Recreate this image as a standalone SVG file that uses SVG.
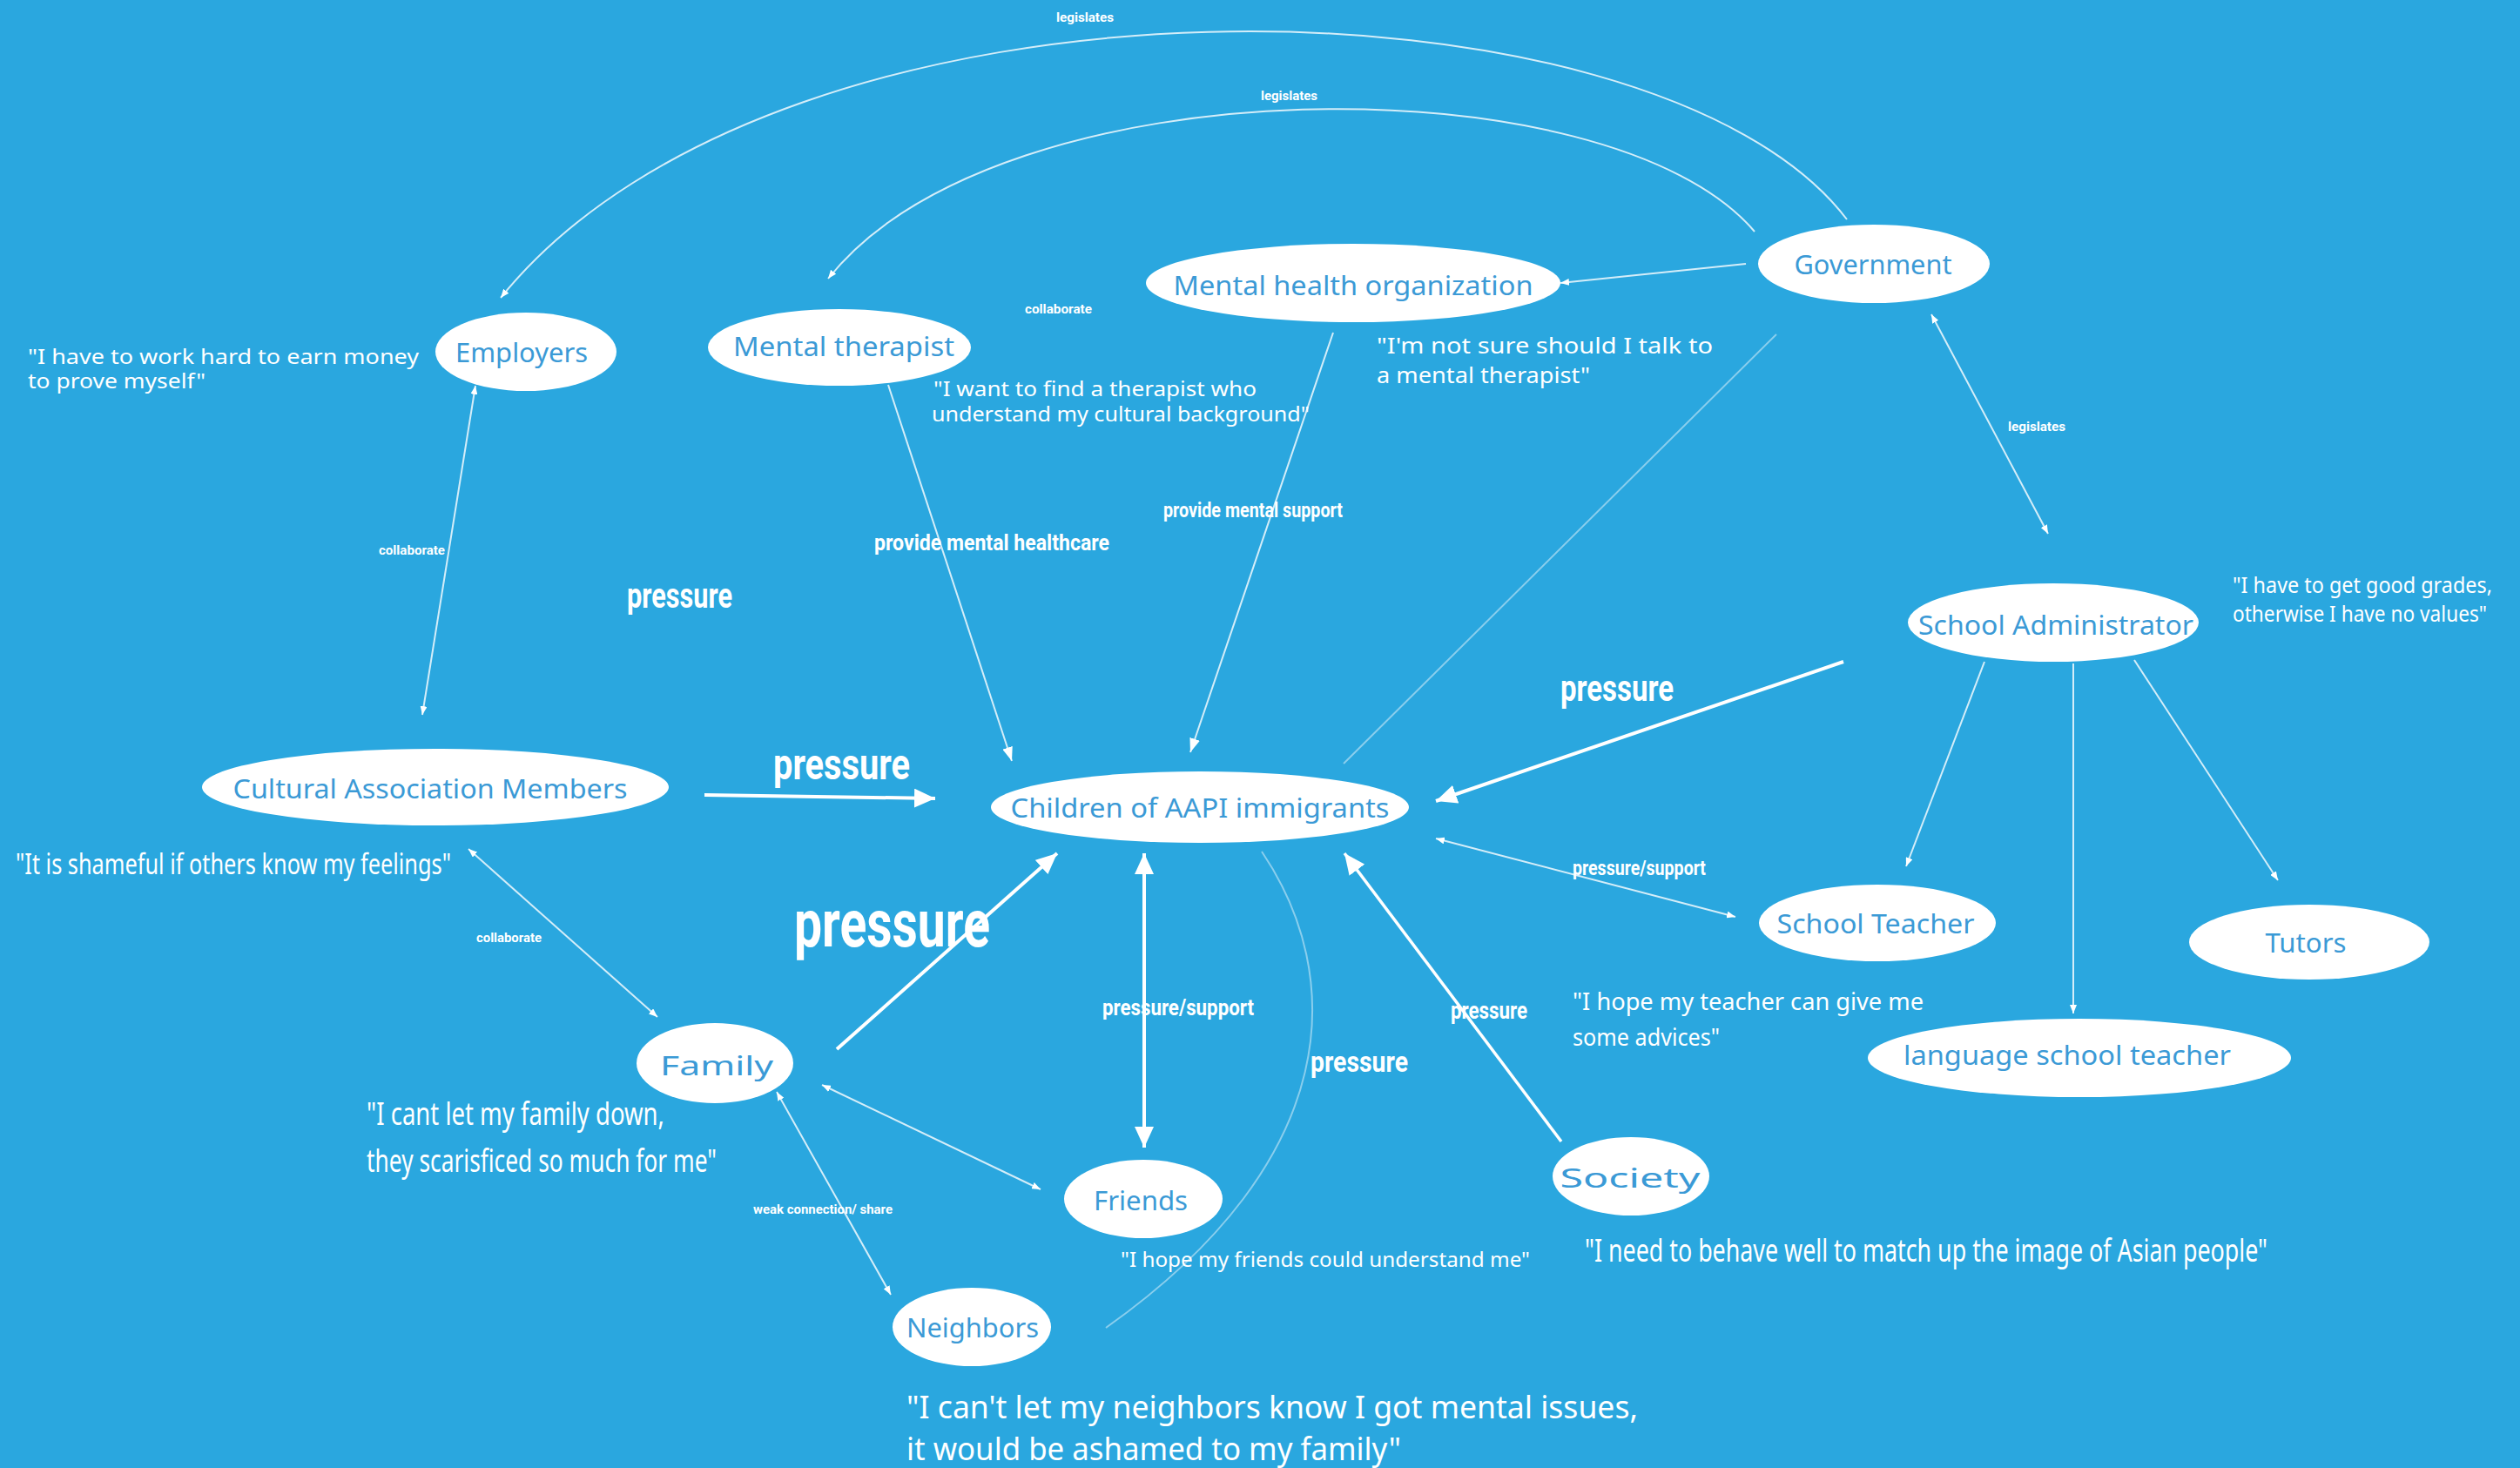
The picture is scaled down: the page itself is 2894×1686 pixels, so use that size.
<svg xmlns="http://www.w3.org/2000/svg" width="2894" height="1686" viewBox="0 0 2894 1686">
<defs>
<style>
.node{fill:#ffffff;}
.nt{fill:#3b9ad6;font-family:"Noto Sans","Open Sans",sans-serif;font-size:30px;text-anchor:middle;dominant-baseline:central;}
.q{fill:#ffffff;font-family:"Noto Sans","Open Sans",sans-serif;}
.lb{fill:#ffffff;font-family:"Liberation Sans Narrow","Roboto","Liberation Sans",sans-serif;font-weight:bold;}
.thin{stroke:#ffffff;stroke-opacity:0.8;stroke-width:2;fill:none;}
.faint{stroke:#ffffff;stroke-opacity:0.45;stroke-width:2;fill:none;}
.thick{stroke:#ffffff;stroke-width:4;fill:none;}
</style>
<marker id="sm" viewBox="0 0 10 8" refX="10" refY="4" markerWidth="10" markerHeight="8" orient="auto-start-reverse" markerUnits="userSpaceOnUse"><path d="M0,0 L10,4 L0,8 z" fill="#ffffff"/></marker>
<marker id="md" viewBox="0 0 16 12" refX="16" refY="6" markerWidth="16" markerHeight="12" orient="auto-start-reverse" markerUnits="userSpaceOnUse"><path d="M0,0 L16,6 L0,12 z" fill="#ffffff"/></marker>
<marker id="bg" viewBox="0 0 24 22" refX="24" refY="11" markerWidth="24" markerHeight="22" orient="auto-start-reverse" markerUnits="userSpaceOnUse"><path d="M0,0 L24,11 L0,22 z" fill="#ffffff"/></marker>
</defs>
<rect x="0" y="0" width="2894" height="1686" fill="#2aa7df"/>

<g id="connectors">
<path class="thin" d="M 2121 252 C 1900 -40, 900 -60, 575 342" marker-end="url(#sm)"/>
<path class="thin" d="M 2015 266 C 1850 70, 1150 70, 951 320" marker-end="url(#sm)"/>
<path class="thin" d="M 2005 303 L 1792 325" marker-end="url(#sm)"/>
<path class="faint" d="M 2040 384 L 1543 877"/>
<path class="thin" d="M 2218 361 L 2352 613" marker-start="url(#sm)" marker-end="url(#sm)"/>
<path class="thin" d="M 546 443 L 485 821" marker-start="url(#sm)" marker-end="url(#sm)"/>
<path class="thin" d="M 1020 442 L 1162 874" marker-end="url(#md)"/>
<path class="thin" d="M 1531 382 L 1367 864" marker-end="url(#md)"/>
<path class="thick" d="M 809 913 L 1074 917" marker-end="url(#bg)"/>
<path class="thick" d="M 2117 760 L 1649 920" marker-end="url(#bg)"/>
<path class="thin" d="M 1649 963 L 1993 1053" marker-start="url(#sm)" marker-end="url(#sm)"/>
<path class="thin" d="M 2279 760 L 2189 995" marker-end="url(#sm)"/>
<path class="thin" d="M 2381 762 L 2381 1164" marker-end="url(#sm)"/>
<path class="thin" d="M 2451 758 L 2616 1011" marker-end="url(#sm)"/>
<path class="thick" d="M 961 1205 L 1214 980" marker-end="url(#bg)"/>
<path class="thick" d="M 1314 980 L 1314 1318" marker-start="url(#bg)" marker-end="url(#bg)"/>
<path class="thin" d="M 944 1246 L 1195 1366" marker-start="url(#sm)" marker-end="url(#sm)"/>
<path class="thin" d="M 892 1254 L 1023 1487" marker-start="url(#sm)" marker-end="url(#sm)"/>
<path class="thin" d="M 538 975 L 755 1168" marker-start="url(#sm)" marker-end="url(#sm)"/>
<path class="thick" style="stroke-width:3.5" d="M 1793 1311 L 1544 980" marker-end="url(#bg)"/>
<path class="faint" d="M 1449 978 C 1545 1120, 1545 1330, 1270 1525"/>
</g>

<g id="labels">
<text class="lb" x="1213" y="25" font-size="15" textLength="66" lengthAdjust="spacingAndGlyphs">legislates</text>
<text class="lb" x="1448" y="115" font-size="15" textLength="65" lengthAdjust="spacingAndGlyphs">legislates</text>
<text class="lb" x="2306" y="495" font-size="15" textLength="66" lengthAdjust="spacingAndGlyphs">legislates</text>
<text class="lb" x="435" y="637" font-size="15" textLength="76" lengthAdjust="spacingAndGlyphs">collaborate</text>
<text class="lb" x="1177" y="360" font-size="15" textLength="77" lengthAdjust="spacingAndGlyphs">collaborate</text>
<text class="lb" x="547" y="1082" font-size="15" textLength="75" lengthAdjust="spacingAndGlyphs">collaborate</text>
<text class="lb" x="1004" y="632" font-size="26" textLength="270" lengthAdjust="spacingAndGlyphs">provide mental healthcare</text>
<text class="lb" x="1336" y="594" font-size="24" textLength="206" lengthAdjust="spacingAndGlyphs">provide mental support</text>
<text class="lb" x="720" y="698" font-size="40" textLength="121" lengthAdjust="spacingAndGlyphs">pressure</text>
<text class="lb" x="888" y="895" font-size="50" textLength="157" lengthAdjust="spacingAndGlyphs">pressure</text>
<text class="lb" x="912" y="1087" font-size="76" textLength="225" lengthAdjust="spacingAndGlyphs">pressure</text>
<text class="lb" x="1792" y="805" font-size="42" textLength="130" lengthAdjust="spacingAndGlyphs">pressure</text>
<text class="lb" x="1806" y="1005" font-size="23" textLength="153" lengthAdjust="spacingAndGlyphs">pressure/support</text>
<text class="lb" x="1266" y="1166" font-size="26" textLength="174" lengthAdjust="spacingAndGlyphs">pressure/support</text>
<text class="lb" x="1666" y="1170" font-size="28" textLength="88" lengthAdjust="spacingAndGlyphs">pressure</text>
<text class="lb" x="1505" y="1231" font-size="34" textLength="112" lengthAdjust="spacingAndGlyphs">pressure</text>
<text class="lb" x="865" y="1394" font-size="15" textLength="160" lengthAdjust="spacingAndGlyphs">weak connection/ share</text>
</g>

<g id="quotes">
<text class="q" x="32" y="418" font-size="24" textLength="449" lengthAdjust="spacingAndGlyphs">"I have to work hard to earn money</text>
<text class="q" x="32" y="446" font-size="24" textLength="204" lengthAdjust="spacingAndGlyphs">to prove myself"</text>
<text class="q" x="1072" y="455" font-size="24" textLength="371" lengthAdjust="spacingAndGlyphs">"I want to find a therapist who</text>
<text class="q" x="1070" y="484" font-size="24" textLength="434" lengthAdjust="spacingAndGlyphs">understand my cultural background"</text>
<text class="q" x="1581" y="406" font-size="26" textLength="386" lengthAdjust="spacingAndGlyphs">"I'm not sure should I talk to</text>
<text class="q" x="1581" y="440" font-size="26" textLength="245" lengthAdjust="spacingAndGlyphs">a mental therapist"</text>
<text class="q" x="2564" y="681" font-size="25" textLength="298" lengthAdjust="spacingAndGlyphs">"I have to get good grades,</text>
<text class="q" x="2564" y="714" font-size="25" textLength="292" lengthAdjust="spacingAndGlyphs">otherwise I have no values"</text>
<text class="q" x="18" y="1004" font-size="32" textLength="500" lengthAdjust="spacingAndGlyphs">"It is shameful if others know my feelings"</text>
<text class="q" x="421" y="1292" font-size="36" textLength="342" lengthAdjust="spacingAndGlyphs">"I cant let my family down,</text>
<text class="q" x="421" y="1346" font-size="36" textLength="402" lengthAdjust="spacingAndGlyphs">they scarisficed so much for me"</text>
<text class="q" x="1287" y="1455" font-size="24" textLength="470" lengthAdjust="spacingAndGlyphs">"I hope my friends could understand me"</text>
<text class="q" x="1820" y="1449" font-size="36" textLength="784" lengthAdjust="spacingAndGlyphs">"I need to behave well to match up the image of Asian people"</text>
<text class="q" x="1806" y="1160" font-size="28" textLength="403" lengthAdjust="spacingAndGlyphs">"I hope my teacher can give me</text>
<text class="q" x="1806" y="1201" font-size="28" textLength="169" lengthAdjust="spacingAndGlyphs">some advices"</text>
<text class="q" x="1041" y="1629" font-size="36" textLength="840" lengthAdjust="spacingAndGlyphs">"I can't let my neighbors know I got mental issues,</text>
<text class="q" x="1041" y="1677" font-size="36" textLength="568" lengthAdjust="spacingAndGlyphs">it would be ashamed to my family"</text>
</g>

<g id="node-employers"><ellipse class="node" cx="604" cy="404" rx="104" ry="45"/><text class="nt" x="599" y="404" textLength="152" lengthAdjust="spacingAndGlyphs">Employers</text></g>
<g id="node-therapist"><ellipse class="node" cx="964" cy="399" rx="151" ry="44"/><text class="nt" x="969" y="397" textLength="254" lengthAdjust="spacingAndGlyphs">Mental therapist</text></g>
<g id="node-mho"><ellipse class="node" cx="1554" cy="325" rx="238" ry="45"/><text class="nt" x="1554" y="327" textLength="413" lengthAdjust="spacingAndGlyphs">Mental health organization</text></g>
<g id="node-government"><ellipse class="node" cx="2152" cy="303" rx="133" ry="45"/><text class="nt" x="2151" y="303" textLength="181" lengthAdjust="spacingAndGlyphs">Government</text></g>
<g id="node-cultural"><ellipse class="node" cx="500" cy="904" rx="268" ry="44"/><text class="nt" x="494" y="905" textLength="453" lengthAdjust="spacingAndGlyphs">Cultural Association Members</text></g>
<g id="node-children"><ellipse class="node" cx="1378" cy="927" rx="240" ry="41"/><text class="nt" x="1378" y="927" textLength="435" lengthAdjust="spacingAndGlyphs">Children of AAPI immigrants</text></g>
<g id="node-admin"><ellipse class="node" cx="2358" cy="715" rx="167" ry="45"/><text class="nt" x="2361" y="717" textLength="316" lengthAdjust="spacingAndGlyphs">School Administrator</text></g>
<g id="node-teacher"><ellipse class="node" cx="2156" cy="1060" rx="136" ry="44"/><text class="nt" x="2154" y="1060" textLength="227" lengthAdjust="spacingAndGlyphs">School Teacher</text></g>
<g id="node-tutors"><ellipse class="node" cx="2652" cy="1082" rx="138" ry="43"/><text class="nt" x="2648" y="1082" textLength="93" lengthAdjust="spacingAndGlyphs">Tutors</text></g>
<g id="node-language"><ellipse class="node" cx="2388" cy="1215" rx="243" ry="45"/><text class="nt" x="2374" y="1211" textLength="376" lengthAdjust="spacingAndGlyphs">language school teacher</text></g>
<g id="node-society"><ellipse class="node" cx="1873" cy="1351" rx="90" ry="45"/><text class="nt" x="1872" y="1352" font-size="40" textLength="161" lengthAdjust="spacingAndGlyphs">Society</text></g>
<g id="node-family"><ellipse class="node" cx="821" cy="1221" rx="90" ry="46"/><text class="nt" x="823" y="1223" font-size="38" textLength="130" lengthAdjust="spacingAndGlyphs">Family</text></g>
<g id="node-friends"><ellipse class="node" cx="1313" cy="1377" rx="91" ry="45"/><text class="nt" x="1310" y="1378" textLength="108" lengthAdjust="spacingAndGlyphs">Friends</text></g>
<g id="node-neighbors"><ellipse class="node" cx="1116" cy="1524" rx="91" ry="45"/><text class="nt" x="1117" y="1524" textLength="152" lengthAdjust="spacingAndGlyphs">Neighbors</text></g>
</svg>
